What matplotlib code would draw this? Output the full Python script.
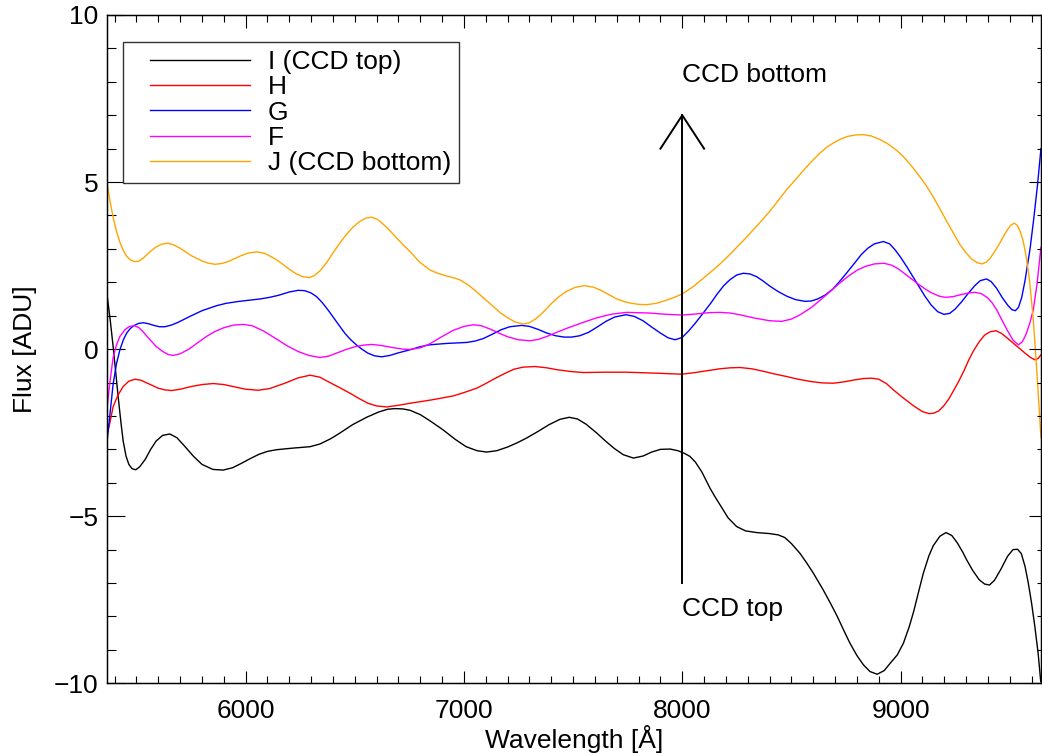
import matplotlib

matplotlib.use("Agg")
import matplotlib.pyplot as plt
from matplotlib.lines import Line2D
from matplotlib.legend_handler import HandlerLine2D
from matplotlib.ticker import MultipleLocator

# wavelength [A] / flux [ADU], one pair of arrays per slit
wave_i = [5365, 5380, 5393, 5405, 5416, 5428, 5439, 5452, 5465, 5480, 5497, 5515, 5540, 5565,
          5590, 5620, 5653, 5685, 5720, 5760, 5800, 5850, 5897, 5940, 5980, 6020, 6060, 6100,
          6142, 6220, 6295, 6340, 6390, 6432, 6490, 6554, 6610, 6650, 6684, 6720, 6753, 6800,
          6850, 6905, 6960, 7010, 7060, 7104, 7150, 7200, 7245, 7287, 7340, 7390, 7440, 7482,
          7520, 7560, 7608, 7650, 7690, 7730, 7776, 7820, 7860, 7900, 7944, 7980, 8010, 8035,
          8060, 8090, 8127, 8150, 8173, 8210, 8249, 8290, 8341, 8400, 8440, 8470, 8500, 8539,
          8570, 8600, 8646, 8680, 8710, 8740, 8768, 8800, 8830, 8860, 8893, 8925, 8950, 8985,
          9013, 9040, 9060, 9083, 9104, 9130, 9150, 9180, 9208, 9235, 9260, 9285, 9303, 9330,
          9360, 9385, 9407, 9430, 9460, 9490, 9515, 9536, 9553, 9570, 9585, 9600, 9615, 9630,
          9642]
flux_i = [1.63, 0.85, 0.08, -0.70, -1.42, -2.15, -2.75, -3.20, -3.45, -3.58, -3.61, -3.52, -3.30, -3.00,
          -2.75, -2.58, -2.54, -2.65, -2.90, -3.20, -3.45, -3.60, -3.62, -3.55, -3.42, -3.28, -3.15, -3.06,
          -3.01, -2.96, -2.92, -2.84, -2.68, -2.51, -2.26, -2.04, -1.88, -1.80, -1.78, -1.79, -1.83, -1.96,
          -2.17, -2.42, -2.70, -2.92, -3.04, -3.08, -3.04, -2.93, -2.80, -2.66, -2.46, -2.26, -2.10, -2.04,
          -2.09, -2.25, -2.51, -2.76, -2.98, -3.16, -3.26, -3.20, -3.08, -3.00, -2.99, -3.04, -3.12, -3.21,
          -3.38, -3.68, -4.16, -4.42, -4.66, -5.05, -5.31, -5.44, -5.49, -5.52, -5.56, -5.64, -5.82, -6.11,
          -6.40, -6.70, -7.21, -7.62, -8.00, -8.42, -8.80, -9.17, -9.45, -9.65, -9.73, -9.62, -9.42, -9.15,
          -8.80, -8.30, -7.85, -7.25, -6.71, -6.18, -5.88, -5.60, -5.49, -5.58, -5.80, -6.08, -6.31, -6.62,
          -6.90, -7.03, -7.06, -6.92, -6.58, -6.20, -6.00, -5.99, -6.12, -6.50, -7.00, -7.60, -8.30, -9.10,
          -9.95]

wave_h = [5365, 5380, 5393, 5415, 5439, 5465, 5493, 5520, 5550, 5600, 5630, 5661, 5700, 5750,
          5800, 5852, 5900, 5950, 6000, 6058, 6110, 6180, 6240, 6295, 6340, 6380, 6430, 6478,
          6520, 6560, 6600, 6646, 6700, 6753, 6851, 6951, 7000, 7058, 7100, 7130, 7165, 7196,
          7230, 7270, 7325, 7380, 7430, 7490, 7547, 7650, 7745, 7880, 7997, 8060, 8110, 8170,
          8219, 8264, 8320, 8370, 8420, 8478, 8530, 8590, 8640, 8692, 8740, 8790, 8830, 8868,
          8900, 8935, 8967, 9010, 9060, 9100, 9130, 9150, 9175, 9200, 9220, 9242, 9265, 9290,
          9312, 9334, 9360, 9385, 9410, 9437, 9460, 9480, 9516, 9545, 9570, 9595, 9615, 9630,
          9643]
flux_h = [-2.57, -2.15, -1.72, -1.38, -1.12, -0.96, -0.90, -0.93, -1.02, -1.17, -1.22, -1.24, -1.20, -1.12,
          -1.06, -1.03, -1.06, -1.13, -1.20, -1.23, -1.18, -1.02, -0.86, -0.78, -0.84, -0.98, -1.15, -1.32,
          -1.48, -1.62, -1.70, -1.73, -1.68, -1.62, -1.52, -1.40, -1.30, -1.17, -1.03, -0.92, -0.80, -0.70,
          -0.60, -0.54, -0.52, -0.56, -0.62, -0.67, -0.70, -0.69, -0.69, -0.72, -0.75, -0.70, -0.65, -0.59,
          -0.56, -0.55, -0.59, -0.66, -0.74, -0.82, -0.90, -0.97, -1.01, -1.02, -0.98, -0.92, -0.88, -0.87,
          -0.90, -1.03, -1.22, -1.45, -1.70, -1.87, -1.93, -1.92, -1.85, -1.68, -1.50, -1.25, -0.98, -0.65,
          -0.33, -0.05, 0.22, 0.42, 0.52, 0.55, 0.48, 0.38, 0.18, 0.02, -0.12, -0.25, -0.32, -0.28,
          -0.17]

wave_g = [5365, 5380, 5393, 5408, 5424, 5440, 5455, 5472, 5490, 5510, 5531, 5555, 5580, 5605,
          5630, 5660, 5690, 5745, 5800, 5867, 5910, 5960, 6010, 6065, 6110, 6150, 6200, 6241,
          6270, 6300, 6325, 6350, 6380, 6405, 6432, 6455, 6480, 6505, 6530, 6560, 6590, 6623,
          6660, 6700, 6753, 6798, 6844, 6920, 7012, 7050, 7090, 7134, 7170, 7210, 7264, 7300,
          7340, 7380, 7420, 7460, 7493, 7530, 7570, 7610, 7650, 7690, 7742, 7780, 7820, 7860,
          7900, 7935, 7967, 8000, 8030, 8060, 8096, 8130, 8160, 8190, 8219, 8250, 8280, 8310,
          8340, 8370, 8400, 8440, 8480, 8520, 8562, 8590, 8620, 8655, 8690, 8720, 8753, 8790,
          8820, 8850, 8880, 8921, 8950, 8975, 9000, 9030, 9074, 9110, 9140, 9170, 9199, 9225,
          9250, 9280, 9310, 9340, 9365, 9394, 9415, 9440, 9465, 9490, 9510, 9526, 9540, 9555,
          9570, 9593, 9610, 9627, 9643]
flux_g = [-2.78, -1.85, -1.05, -0.45, -0.02, 0.28, 0.48, 0.62, 0.71, 0.77, 0.79, 0.76, 0.71, 0.67,
          0.67, 0.72, 0.80, 0.98, 1.15, 1.30, 1.37, 1.42, 1.46, 1.50, 1.55, 1.61, 1.71, 1.76,
          1.75, 1.68, 1.57, 1.40, 1.15, 0.92, 0.68, 0.47, 0.29, 0.14, 0.01, -0.12, -0.20, -0.23,
          -0.19, -0.11, -0.02, 0.07, 0.13, 0.17, 0.20, 0.24, 0.32, 0.46, 0.58, 0.67, 0.71, 0.68,
          0.59, 0.48, 0.40, 0.36, 0.36, 0.40, 0.50, 0.66, 0.83, 0.96, 1.03, 0.98, 0.85, 0.66,
          0.48, 0.34, 0.28, 0.35, 0.55, 0.78, 1.08, 1.37, 1.65, 1.90, 2.08, 2.22, 2.27, 2.25,
          2.17, 2.04, 1.89, 1.72, 1.58, 1.48, 1.43, 1.44, 1.50, 1.62, 1.80, 2.02, 2.28, 2.58,
          2.83, 3.02, 3.15, 3.22, 3.15, 2.97, 2.75, 2.45, 1.98, 1.60, 1.32, 1.12, 1.04, 1.07,
          1.20, 1.42, 1.67, 1.90, 2.05, 2.10, 2.02, 1.82, 1.55, 1.32, 1.18, 1.15, 1.25, 1.55,
          2.05, 3.00, 3.90, 4.90, 6.00]

wave_f = [5365, 5378, 5393, 5408, 5424, 5447, 5468, 5490, 5510, 5530, 5562, 5590, 5620, 5645,
          5668, 5700, 5740, 5780, 5821, 5860, 5900, 5945, 5989, 6030, 6080, 6142, 6190, 6240,
          6290, 6340, 6380, 6420, 6460, 6500, 6540, 6577, 6620, 6680, 6720, 6753, 6800, 6844,
          6890, 6950, 7000, 7043, 7080, 7120, 7160, 7200, 7250, 7302, 7340, 7380, 7420, 7470,
          7516, 7560, 7600, 7640, 7680, 7745, 7850, 7930, 8002, 8060, 8120, 8173, 8220, 8270,
          8330, 8400, 8455, 8500, 8540, 8590, 8631, 8680, 8720, 8760, 8800, 8840, 8880, 8924,
          8960, 8990, 9020, 9050, 9074, 9110, 9140, 9175, 9204, 9240, 9270, 9310, 9341, 9370,
          9400, 9420, 9440, 9465, 9490, 9515, 9539, 9558, 9575, 9592, 9608, 9625, 9643]
flux_f = [-1.77, -1.00, -0.25, 0.12, 0.38, 0.58, 0.68, 0.70, 0.65, 0.52, 0.28, 0.08, -0.07, -0.16,
          -0.19, -0.14, 0.00, 0.19, 0.38, 0.53, 0.64, 0.72, 0.74, 0.70, 0.55, 0.30, 0.10, -0.07,
          -0.19, -0.25, -0.21, -0.11, -0.01, 0.07, 0.12, 0.14, 0.11, 0.04, 0.00, -0.01, 0.04, 0.16,
          0.34, 0.56, 0.68, 0.73, 0.70, 0.60, 0.48, 0.37, 0.28, 0.25, 0.29, 0.38, 0.49, 0.62,
          0.73, 0.83, 0.92, 0.99, 1.05, 1.10, 1.08, 1.04, 1.02, 1.05, 1.09, 1.10, 1.08, 1.02,
          0.93, 0.85, 0.83, 0.90, 1.03, 1.24, 1.46, 1.74, 1.97, 2.18, 2.36, 2.48, 2.55, 2.57,
          2.51, 2.40, 2.25, 2.10, 1.98, 1.81, 1.69, 1.59, 1.55, 1.57, 1.62, 1.68, 1.70, 1.66,
          1.53, 1.38, 1.18, 0.86, 0.55, 0.27, 0.13, 0.22, 0.45, 0.78, 1.18, 1.95, 3.05]

wave_j = [5365, 5378, 5393, 5408, 5424, 5440, 5455, 5472, 5490, 5510, 5530, 5550, 5570, 5590,
          5615, 5643, 5670, 5700, 5750, 5800, 5830, 5859, 5890, 5920, 5950, 5980, 6015, 6053,
          6085, 6110, 6140, 6170, 6200, 6230, 6260, 6291, 6315, 6340, 6370, 6400, 6430, 6460,
          6490, 6520, 6550, 6577, 6605, 6630, 6660, 6690, 6720, 6753, 6798, 6844, 6880, 6920,
          6960, 6982, 7020, 7050, 7090, 7134, 7170, 7200, 7235, 7272, 7300, 7330, 7365, 7400,
          7435, 7470, 7510, 7554, 7595, 7630, 7670, 7700, 7740, 7770, 7800, 7837, 7880, 7920,
          7960, 8002, 8050, 8100, 8140, 8173, 8210, 8250, 8290, 8325, 8360, 8400, 8440, 8478,
          8515, 8550, 8590, 8631, 8665, 8700, 8730, 8760, 8795, 8829, 8865, 8900, 8940, 8982,
          9015, 9050, 9085, 9120, 9150, 9180, 9210, 9242, 9270, 9300, 9325, 9350, 9372, 9392,
          9410, 9432, 9455, 9475, 9490, 9505, 9521, 9535, 9548, 9562, 9575, 9590, 9608, 9625,
          9643]
flux_j = [5.00, 4.45, 3.95, 3.53, 3.20, 2.95, 2.78, 2.67, 2.62, 2.63, 2.72, 2.84, 2.96, 3.06,
          3.14, 3.17, 3.12, 3.02, 2.80, 2.64, 2.57, 2.54, 2.56, 2.62, 2.71, 2.80, 2.88, 2.91,
          2.87, 2.79, 2.68, 2.54, 2.39, 2.26, 2.17, 2.14, 2.20, 2.34, 2.58, 2.88, 3.16, 3.42,
          3.64, 3.81, 3.92, 3.95, 3.88, 3.74, 3.55, 3.34, 3.13, 2.92, 2.60, 2.37, 2.27, 2.19,
          2.12, 2.07, 1.92, 1.76, 1.53, 1.28, 1.07, 0.94, 0.81, 0.75, 0.79, 0.91, 1.12, 1.36,
          1.57, 1.73, 1.85, 1.90, 1.85, 1.75, 1.61, 1.50, 1.41, 1.37, 1.34, 1.33, 1.37, 1.45,
          1.54, 1.66, 1.87, 2.14, 2.36, 2.55, 2.78, 3.05, 3.32, 3.57, 3.82, 4.12, 4.45, 4.77,
          5.05, 5.31, 5.60, 5.87, 6.06, 6.20, 6.30, 6.37, 6.41, 6.42, 6.38, 6.29, 6.15, 5.95,
          5.75, 5.48, 5.19, 4.87, 4.55, 4.20, 3.84, 3.47, 3.15, 2.88, 2.70, 2.59, 2.55, 2.60,
          2.72, 2.93, 3.18, 3.42, 3.58, 3.71, 3.77, 3.70, 3.52, 3.22, 2.78, 2.10, 0.88, -0.75,
          -2.65]

series = [
    ("I (CCD top)", wave_i, flux_i, "black"),
    ("H", wave_h, flux_h, "#ff0000"),
    ("G", wave_g, flux_g, "#0000ff"),
    ("F", wave_f, flux_f, "#ff00ff"),
    ("J (CCD bottom)", wave_j, flux_j, "#ffa500"),
]

x_range = (5365, 9643)
y_range = (-10, 10)
arrow_x = 8000
arrow_y = (-7, 7)

plt.rcParams["font.family"] = ["Liberation Sans", "DejaVu Sans"]
plt.rcParams["font.size"] = 19

fig = plt.figure(figsize=(10.42, 7.53), dpi=100)
ax = fig.add_axes([0.1027, 0.0926, 0.8963, 0.8875])

for label, w, f, color in series:
    ax.plot(w, f, color=color, lw=1.0, label=label)

# arrow from CCD top to CCD bottom
ax.plot([arrow_x, arrow_x], arrow_y, color="black", lw=1.4)
ax.plot([arrow_x - 100, arrow_x, arrow_x + 100], [arrow_y[1] - 1, arrow_y[1], arrow_y[1] - 1],
        color="black", lw=1.4)
ax.text(arrow_x, 8.0, "CCD bottom", ha="left", va="baseline")
ax.text(arrow_x, -8.0, "CCD top", ha="left", va="baseline")

ax.set_xlim(*x_range)
ax.set_ylim(*y_range)
ax.xaxis.set_major_locator(MultipleLocator(1000))
ax.xaxis.set_minor_locator(MultipleLocator(100))
ax.yaxis.set_major_locator(MultipleLocator(5))
ax.yaxis.set_minor_locator(MultipleLocator(1))
ax.tick_params(axis="x", which="both", direction="in", top=True, width=0.8, pad=11)
ax.tick_params(axis="x", which="major", length=9)
ax.tick_params(axis="x", which="minor", length=5)
ax.tick_params(axis="y", which="both", direction="in", right=False, width=0.8, pad=6)
ax.tick_params(axis="y", which="major", length=13)
ax.tick_params(axis="y", which="minor", length=6.5)
for sp in ax.spines.values():
    sp.set_linewidth(1.0)

# right-hand ticks are shorter in the original
ax2 = ax.twinx()
ax2.set_ylim(*y_range)
ax2.yaxis.set_major_locator(MultipleLocator(5))
ax2.yaxis.set_minor_locator(MultipleLocator(1))
ax2.tick_params(axis="y", which="both", direction="in", width=0.8, labelright=False)
ax2.tick_params(axis="y", which="major", length=9)
ax2.tick_params(axis="y", which="minor", length=3)

ax.set_xlabel("Wavelength [Å]", labelpad=2)
ax.set_ylabel("Flux [ADU]", labelpad=12)

# keep the end labels inside the frame, as IDL does
fig.canvas.draw()
yticks = ax.yaxis.get_major_ticks()
yticks[0].label1.set_va("baseline")
yticks[-1].label1.set_va("top")

ax.legend(loc="upper left", bbox_to_anchor=(0.0171, 0.9596), borderaxespad=0,
          fancybox=False, edgecolor="#333333", framealpha=1, borderpad=0.3,
          labelspacing=0.05, handlelength=4.5, handletextpad=0.68,
          handler_map={Line2D: HandlerLine2D(xpad=0.72)}, fontsize=19)
ax.get_legend().get_frame().set_linewidth(1.0)

fig.savefig("out.png", dpi=100)
